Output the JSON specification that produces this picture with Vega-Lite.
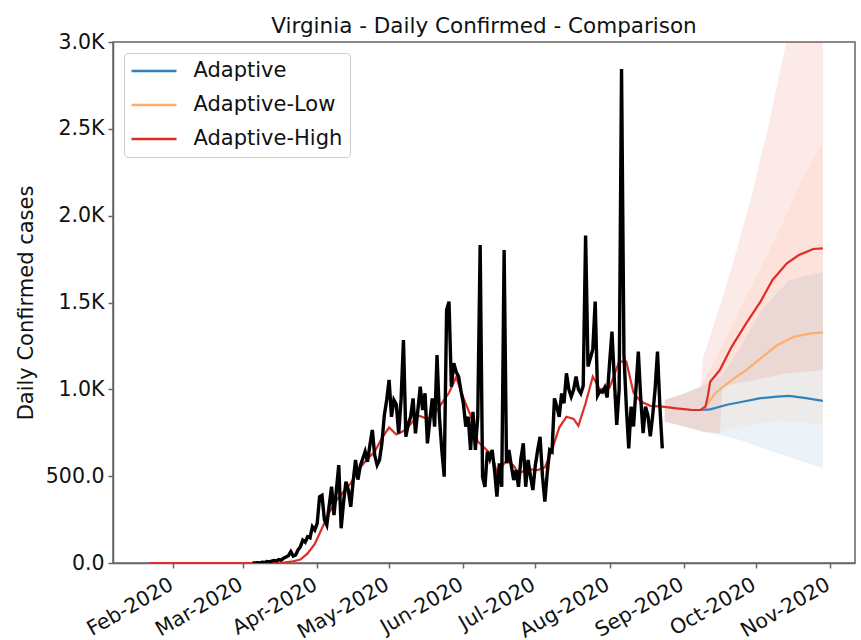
{
  "$schema": "https://vega.github.io/schema/vega-lite/v6.json",
  "width": 742,
  "height": 521,
  "autosize": "none",
  "padding": {"left": 113, "top": 42, "right": 6, "bottom": 77},
  "background": "white",
  "title": {"text": "Virginia - Daily Confirmed - Comparison", "font": "DejaVu Sans", "fontSize": 21.5, "fontWeight": "normal", "color": "#111", "frame": "group", "offset": -5},
  "config": {
    "view": {"stroke": "#666", "strokeWidth": 1.5},
    "font": "DejaVu Sans",
    "axis": {"grid": false, "domainColor": "#666", "domainWidth": 1.5, "tickColor": "#666", "tickWidth": 1.5, "tickSize": 5, "labelFont": "DejaVu Sans", "labelFontSize": 20.5, "labelColor": "#111", "titleFont": "DejaVu Sans", "titleFontWeight": "normal", "titleColor": "#111"},
    "legend": {"symbolType": "M-2.5,0H2.5", "symbolStrokeWidth": 2.5, "symbolSize": 324, "symbolOffset": 12, "labelFont": "DejaVu Sans", "labelFontSize": 21, "labelColor": "#111", "labelOffset": 29, "rowPadding": 12, "padding": 7.5, "strokeColor": "#cccccc", "cornerRadius": 4, "fillColor": "white", "orient": "top-left", "offset": 11}
  },
  "datasets": {
    "obs": [
      {"date": "2020-03-05", "value": 0}, {"date": "2020-03-06", "value": 0}, {"date": "2020-03-07", "value": 2}, {"date": "2020-03-08", "value": 0},
      {"date": "2020-03-09", "value": 5}, {"date": "2020-03-10", "value": 3}, {"date": "2020-03-11", "value": 8}, {"date": "2020-03-12", "value": 6},
      {"date": "2020-03-13", "value": 11}, {"date": "2020-03-14", "value": 15}, {"date": "2020-03-15", "value": 12}, {"date": "2020-03-16", "value": 20},
      {"date": "2020-03-17", "value": 17}, {"date": "2020-03-18", "value": 28}, {"date": "2020-03-19", "value": 35}, {"date": "2020-03-20", "value": 42},
      {"date": "2020-03-21", "value": 65}, {"date": "2020-03-22", "value": 40}, {"date": "2020-03-23", "value": 46}, {"date": "2020-03-24", "value": 75},
      {"date": "2020-03-25", "value": 94}, {"date": "2020-03-26", "value": 132}, {"date": "2020-03-27", "value": 120}, {"date": "2020-03-28", "value": 151},
      {"date": "2020-03-29", "value": 145}, {"date": "2020-03-30", "value": 209}, {"date": "2020-03-31", "value": 190}, {"date": "2020-04-01", "value": 228},
      {"date": "2020-04-02", "value": 382}, {"date": "2020-04-03", "value": 390}, {"date": "2020-04-04", "value": 250}, {"date": "2020-04-05", "value": 219},
      {"date": "2020-04-06", "value": 330}, {"date": "2020-04-07", "value": 440}, {"date": "2020-04-08", "value": 276}, {"date": "2020-04-09", "value": 420},
      {"date": "2020-04-10", "value": 564}, {"date": "2020-04-11", "value": 200}, {"date": "2020-04-12", "value": 350}, {"date": "2020-04-13", "value": 468},
      {"date": "2020-04-14", "value": 420}, {"date": "2020-04-15", "value": 324}, {"date": "2020-04-16", "value": 470}, {"date": "2020-04-17", "value": 593},
      {"date": "2020-04-18", "value": 480}, {"date": "2020-04-19", "value": 560}, {"date": "2020-04-20", "value": 600}, {"date": "2020-04-21", "value": 641},
      {"date": "2020-04-22", "value": 583}, {"date": "2020-04-23", "value": 680}, {"date": "2020-04-24", "value": 766}, {"date": "2020-04-25", "value": 620},
      {"date": "2020-04-26", "value": 564}, {"date": "2020-04-27", "value": 593}, {"date": "2020-04-28", "value": 689}, {"date": "2020-04-29", "value": 850},
      {"date": "2020-04-30", "value": 939}, {"date": "2020-05-01", "value": 1054}, {"date": "2020-05-02", "value": 842}, {"date": "2020-05-03", "value": 939},
      {"date": "2020-05-04", "value": 914}, {"date": "2020-05-05", "value": 747}, {"date": "2020-05-06", "value": 939}, {"date": "2020-05-07", "value": 1284},
      {"date": "2020-05-08", "value": 727}, {"date": "2020-05-09", "value": 800}, {"date": "2020-05-10", "value": 842}, {"date": "2020-05-11", "value": 948},
      {"date": "2020-05-12", "value": 747}, {"date": "2020-05-13", "value": 880}, {"date": "2020-05-14", "value": 1015}, {"date": "2020-05-15", "value": 881},
      {"date": "2020-05-16", "value": 977}, {"date": "2020-05-17", "value": 689}, {"date": "2020-05-18", "value": 820}, {"date": "2020-05-19", "value": 948},
      {"date": "2020-05-20", "value": 785}, {"date": "2020-05-21", "value": 1198}, {"date": "2020-05-22", "value": 842}, {"date": "2020-05-23", "value": 650},
      {"date": "2020-05-24", "value": 497}, {"date": "2020-05-25", "value": 1457}, {"date": "2020-05-26", "value": 1505}, {"date": "2020-05-27", "value": 1015},
      {"date": "2020-05-28", "value": 1150}, {"date": "2020-05-29", "value": 1100}, {"date": "2020-05-30", "value": 1073}, {"date": "2020-05-31", "value": 990},
      {"date": "2020-06-01", "value": 920}, {"date": "2020-06-02", "value": 785}, {"date": "2020-06-03", "value": 842}, {"date": "2020-06-04", "value": 651},
      {"date": "2020-06-05", "value": 870}, {"date": "2020-06-06", "value": 651}, {"date": "2020-06-07", "value": 842}, {"date": "2020-06-08", "value": 1831},
      {"date": "2020-06-09", "value": 497}, {"date": "2020-06-10", "value": 439}, {"date": "2020-06-11", "value": 641}, {"date": "2020-06-12", "value": 600},
      {"date": "2020-06-13", "value": 651}, {"date": "2020-06-14", "value": 535}, {"date": "2020-06-15", "value": 382}, {"date": "2020-06-16", "value": 574},
      {"date": "2020-06-17", "value": 439}, {"date": "2020-06-18", "value": 1802}, {"date": "2020-06-19", "value": 574}, {"date": "2020-06-20", "value": 651},
      {"date": "2020-06-21", "value": 560}, {"date": "2020-06-22", "value": 478}, {"date": "2020-06-23", "value": 535}, {"date": "2020-06-24", "value": 439},
      {"date": "2020-06-25", "value": 600}, {"date": "2020-06-26", "value": 689}, {"date": "2020-06-27", "value": 439}, {"date": "2020-06-28", "value": 593},
      {"date": "2020-06-29", "value": 500}, {"date": "2020-06-30", "value": 420}, {"date": "2020-07-01", "value": 560}, {"date": "2020-07-02", "value": 651},
      {"date": "2020-07-03", "value": 727}, {"date": "2020-07-04", "value": 500}, {"date": "2020-07-05", "value": 353}, {"date": "2020-07-06", "value": 520},
      {"date": "2020-07-07", "value": 651}, {"date": "2020-07-08", "value": 641}, {"date": "2020-07-09", "value": 948}, {"date": "2020-07-10", "value": 900},
      {"date": "2020-07-11", "value": 842}, {"date": "2020-07-12", "value": 977}, {"date": "2020-07-13", "value": 920}, {"date": "2020-07-14", "value": 1092},
      {"date": "2020-07-15", "value": 1000}, {"date": "2020-07-16", "value": 958}, {"date": "2020-07-17", "value": 997}, {"date": "2020-07-18", "value": 1073},
      {"date": "2020-07-19", "value": 1000}, {"date": "2020-07-20", "value": 977}, {"date": "2020-07-21", "value": 1020}, {"date": "2020-07-22", "value": 1885},
      {"date": "2020-07-23", "value": 1131}, {"date": "2020-07-24", "value": 1180}, {"date": "2020-07-25", "value": 1229}, {"date": "2020-07-26", "value": 1505},
      {"date": "2020-07-27", "value": 964}, {"date": "2020-07-28", "value": 990}, {"date": "2020-07-29", "value": 983}, {"date": "2020-07-30", "value": 1010},
      {"date": "2020-07-31", "value": 953}, {"date": "2020-08-01", "value": 1150}, {"date": "2020-08-02", "value": 1332}, {"date": "2020-08-03", "value": 1050},
      {"date": "2020-08-04", "value": 795}, {"date": "2020-08-05", "value": 1000}, {"date": "2020-08-06", "value": 2845}, {"date": "2020-08-07", "value": 1200},
      {"date": "2020-08-08", "value": 900}, {"date": "2020-08-09", "value": 660}, {"date": "2020-08-10", "value": 900}, {"date": "2020-08-11", "value": 786},
      {"date": "2020-08-12", "value": 1000}, {"date": "2020-08-13", "value": 1217}, {"date": "2020-08-14", "value": 950}, {"date": "2020-08-15", "value": 748},
      {"date": "2020-08-16", "value": 900}, {"date": "2020-08-17", "value": 850}, {"date": "2020-08-18", "value": 729}, {"date": "2020-08-19", "value": 850},
      {"date": "2020-08-20", "value": 1000}, {"date": "2020-08-21", "value": 1217}, {"date": "2020-08-22", "value": 900}, {"date": "2020-08-23", "value": 660}
    ],
    "fit": [
      {"date": "2020-09-08", "series": "Adaptive", "value": 881}, {"date": "2020-09-12", "series": "Adaptive", "value": 885},
      {"date": "2020-09-19", "series": "Adaptive", "value": 911}, {"date": "2020-09-26", "series": "Adaptive", "value": 930},
      {"date": "2020-10-03", "series": "Adaptive", "value": 949}, {"date": "2020-10-10", "series": "Adaptive", "value": 958},
      {"date": "2020-10-15", "series": "Adaptive", "value": 962}, {"date": "2020-10-22", "series": "Adaptive", "value": 949},
      {"date": "2020-10-29", "series": "Adaptive", "value": 934},
      {"date": "2020-09-08", "series": "Adaptive-Low", "value": 881}, {"date": "2020-09-10", "series": "Adaptive-Low", "value": 900},
      {"date": "2020-09-14", "series": "Adaptive-Low", "value": 976}, {"date": "2020-09-21", "series": "Adaptive-Low", "value": 1054},
      {"date": "2020-09-27", "series": "Adaptive-Low", "value": 1111}, {"date": "2020-10-03", "series": "Adaptive-Low", "value": 1178},
      {"date": "2020-10-10", "series": "Adaptive-Low", "value": 1255}, {"date": "2020-10-17", "series": "Adaptive-Low", "value": 1303},
      {"date": "2020-10-24", "series": "Adaptive-Low", "value": 1322}, {"date": "2020-10-29", "series": "Adaptive-Low", "value": 1326},
      {"date": "2020-01-22", "series": "Adaptive-High", "value": 0}, {"date": "2020-03-10", "series": "Adaptive-High", "value": 0},
      {"date": "2020-03-18", "series": "Adaptive-High", "value": 3}, {"date": "2020-03-22", "series": "Adaptive-High", "value": 10},
      {"date": "2020-03-25", "series": "Adaptive-High", "value": 20}, {"date": "2020-03-28", "series": "Adaptive-High", "value": 55},
      {"date": "2020-03-31", "series": "Adaptive-High", "value": 110}, {"date": "2020-04-03", "series": "Adaptive-High", "value": 200},
      {"date": "2020-04-06", "series": "Adaptive-High", "value": 290}, {"date": "2020-04-09", "series": "Adaptive-High", "value": 360},
      {"date": "2020-04-12", "series": "Adaptive-High", "value": 410}, {"date": "2020-04-15", "series": "Adaptive-High", "value": 460},
      {"date": "2020-04-19", "series": "Adaptive-High", "value": 550}, {"date": "2020-04-22", "series": "Adaptive-High", "value": 600},
      {"date": "2020-04-25", "series": "Adaptive-High", "value": 640}, {"date": "2020-04-28", "series": "Adaptive-High", "value": 720},
      {"date": "2020-05-01", "series": "Adaptive-High", "value": 780}, {"date": "2020-05-04", "series": "Adaptive-High", "value": 740},
      {"date": "2020-05-07", "series": "Adaptive-High", "value": 760}, {"date": "2020-05-10", "series": "Adaptive-High", "value": 800},
      {"date": "2020-05-13", "series": "Adaptive-High", "value": 850}, {"date": "2020-05-17", "series": "Adaptive-High", "value": 830},
      {"date": "2020-05-20", "series": "Adaptive-High", "value": 860}, {"date": "2020-05-23", "series": "Adaptive-High", "value": 920},
      {"date": "2020-05-26", "series": "Adaptive-High", "value": 980}, {"date": "2020-05-29", "series": "Adaptive-High", "value": 1070},
      {"date": "2020-06-01", "series": "Adaptive-High", "value": 950}, {"date": "2020-06-04", "series": "Adaptive-High", "value": 850},
      {"date": "2020-06-07", "series": "Adaptive-High", "value": 700}, {"date": "2020-06-10", "series": "Adaptive-High", "value": 660},
      {"date": "2020-06-13", "series": "Adaptive-High", "value": 620}, {"date": "2020-06-15", "series": "Adaptive-High", "value": 520},
      {"date": "2020-06-19", "series": "Adaptive-High", "value": 590}, {"date": "2020-06-22", "series": "Adaptive-High", "value": 560},
      {"date": "2020-06-24", "series": "Adaptive-High", "value": 516}, {"date": "2020-06-28", "series": "Adaptive-High", "value": 540},
      {"date": "2020-07-02", "series": "Adaptive-High", "value": 535}, {"date": "2020-07-05", "series": "Adaptive-High", "value": 550},
      {"date": "2020-07-08", "series": "Adaptive-High", "value": 651}, {"date": "2020-07-11", "series": "Adaptive-High", "value": 780},
      {"date": "2020-07-14", "series": "Adaptive-High", "value": 842}, {"date": "2020-07-17", "series": "Adaptive-High", "value": 830},
      {"date": "2020-07-19", "series": "Adaptive-High", "value": 790}, {"date": "2020-07-22", "series": "Adaptive-High", "value": 920},
      {"date": "2020-07-25", "series": "Adaptive-High", "value": 1073}, {"date": "2020-07-28", "series": "Adaptive-High", "value": 1000},
      {"date": "2020-08-01", "series": "Adaptive-High", "value": 1010}, {"date": "2020-08-05", "series": "Adaptive-High", "value": 1159},
      {"date": "2020-08-08", "series": "Adaptive-High", "value": 1159}, {"date": "2020-08-11", "series": "Adaptive-High", "value": 980},
      {"date": "2020-08-14", "series": "Adaptive-High", "value": 930}, {"date": "2020-08-18", "series": "Adaptive-High", "value": 905},
      {"date": "2020-08-23", "series": "Adaptive-High", "value": 900}, {"date": "2020-08-29", "series": "Adaptive-High", "value": 890},
      {"date": "2020-09-04", "series": "Adaptive-High", "value": 882}, {"date": "2020-09-08", "series": "Adaptive-High", "value": 881},
      {"date": "2020-09-10", "series": "Adaptive-High", "value": 900}, {"date": "2020-09-11", "series": "Adaptive-High", "value": 960},
      {"date": "2020-09-12", "series": "Adaptive-High", "value": 1044}, {"date": "2020-09-16", "series": "Adaptive-High", "value": 1111},
      {"date": "2020-09-21", "series": "Adaptive-High", "value": 1246}, {"date": "2020-09-27", "series": "Adaptive-High", "value": 1380},
      {"date": "2020-10-03", "series": "Adaptive-High", "value": 1505}, {"date": "2020-10-08", "series": "Adaptive-High", "value": 1630},
      {"date": "2020-10-14", "series": "Adaptive-High", "value": 1726}, {"date": "2020-10-19", "series": "Adaptive-High", "value": 1773},
      {"date": "2020-10-25", "series": "Adaptive-High", "value": 1808}, {"date": "2020-10-29", "series": "Adaptive-High", "value": 1812}
    ],
    "band": [
      {"date": "2020-08-24", "series": "Adaptive", "lo": 814, "hi": 938}, {"date": "2020-08-31", "series": "Adaptive", "lo": 790, "hi": 970},
      {"date": "2020-09-08", "series": "Adaptive", "lo": 760, "hi": 1015}, {"date": "2020-09-12", "series": "Adaptive", "lo": 745, "hi": 1040},
      {"date": "2020-09-17", "series": "Adaptive", "lo": 735, "hi": 1080}, {"date": "2020-09-25", "series": "Adaptive", "lo": 705, "hi": 1250},
      {"date": "2020-10-03", "series": "Adaptive", "lo": 665, "hi": 1450}, {"date": "2020-10-15", "series": "Adaptive", "lo": 610, "hi": 1630},
      {"date": "2020-10-29", "series": "Adaptive", "lo": 545, "hi": 1677},
      {"date": "2020-08-24", "series": "Adaptive-Low", "lo": 814, "hi": 938}, {"date": "2020-08-31", "series": "Adaptive-Low", "lo": 790, "hi": 970},
      {"date": "2020-09-08", "series": "Adaptive-Low", "lo": 760, "hi": 1015}, {"date": "2020-09-16", "series": "Adaptive-Low", "lo": 748, "hi": 1220},
      {"date": "2020-09-17", "series": "Adaptive-Low", "lo": 760, "hi": 1250}, {"date": "2020-09-25", "series": "Adaptive-Low", "lo": 785, "hi": 1480},
      {"date": "2020-10-03", "series": "Adaptive-Low", "lo": 805, "hi": 1700}, {"date": "2020-10-12", "series": "Adaptive-Low", "lo": 820, "hi": 1950},
      {"date": "2020-10-20", "series": "Adaptive-Low", "lo": 810, "hi": 2200}, {"date": "2020-10-29", "series": "Adaptive-Low", "lo": 795, "hi": 2426},
      {"date": "2020-08-24", "series": "Adaptive-High", "lo": 814, "hi": 938}, {"date": "2020-08-31", "series": "Adaptive-High", "lo": 790, "hi": 970},
      {"date": "2020-09-08", "series": "Adaptive-High", "lo": 760, "hi": 1015}, {"date": "2020-09-09", "series": "Adaptive-High", "lo": 755, "hi": 1180},
      {"date": "2020-09-16", "series": "Adaptive-High", "lo": 748, "hi": 1480}, {"date": "2020-09-17", "series": "Adaptive-High", "lo": 1015, "hi": 1520},
      {"date": "2020-09-22", "series": "Adaptive-High", "lo": 1030, "hi": 1750}, {"date": "2020-09-29", "series": "Adaptive-High", "lo": 1050, "hi": 2100},
      {"date": "2020-10-06", "series": "Adaptive-High", "lo": 1070, "hi": 2500}, {"date": "2020-10-13", "series": "Adaptive-High", "lo": 1090, "hi": 2950},
      {"date": "2020-10-20", "series": "Adaptive-High", "lo": 1100, "hi": 3400}, {"date": "2020-10-29", "series": "Adaptive-High", "lo": 1111, "hi": 4100}
    ]
  },
  "encoding": {
    "x": {
      "field": "date", "type": "temporal",
      "scale": {"type": "utc", "domain": [{"year": 2020, "month": 1, "date": 6, "hours": 19, "utc": true}, {"year": 2020, "month": 11, "date": 11, "hours": 10, "utc": true}]},
      "axis": {"title": null, "format": "%b-%Y", "tickCount": "month", "labelAngle": -30, "labelAlign": "right", "labelBaseline": "top", "labelPadding": 6, "labelOffset": -7, "labelFlush": false, "labelOverlap": false}
    }
  },
  "layer": [
    {
      "data": {"name": "band"},
      "mark": {"type": "area", "opacity": 0.1, "clip": true},
      "encoding": {
        "y": {"field": "lo", "type": "quantitative"},
        "y2": {"field": "hi"},
        "color": {"field": "series", "type": "nominal", "scale": {"domain": ["Adaptive", "Adaptive-Low", "Adaptive-High"], "range": ["#3182bd", "#fdae6b", "#de2d26"]}, "legend": null}
      }
    },
    {
      "data": {"name": "fit"},
      "mark": {"type": "line", "strokeWidth": 2.2, "clip": true},
      "encoding": {
        "y": {"field": "value", "type": "quantitative", "scale": {"domain": [0, 3000]},
          "axis": {"title": "Daily Confirmed cases", "titleFontSize": 21, "titlePadding": 9, "values": [0, 500, 1000, 1500, 2000, 2500, 3000], "labelExpr": "datum.value >= 1000 ? format(datum.value / 1000, '.1f') + 'K' : format(datum.value, '.1f')", "labelPadding": 4}},
        "color": {"field": "series", "type": "nominal", "scale": {"domain": ["Adaptive", "Adaptive-Low", "Adaptive-High"], "range": ["#3182bd", "#fdae6b", "#de2d26"]}, "legend": {"title": null}}
      }
    },
    {
      "data": {"name": "obs"},
      "mark": {"type": "line", "color": "#000000", "strokeWidth": 3.4, "clip": true},
      "encoding": {
        "y": {"field": "value", "type": "quantitative"}
      }
    }
  ],
  "resolve": {"scale": {"color": "independent"}}
}
